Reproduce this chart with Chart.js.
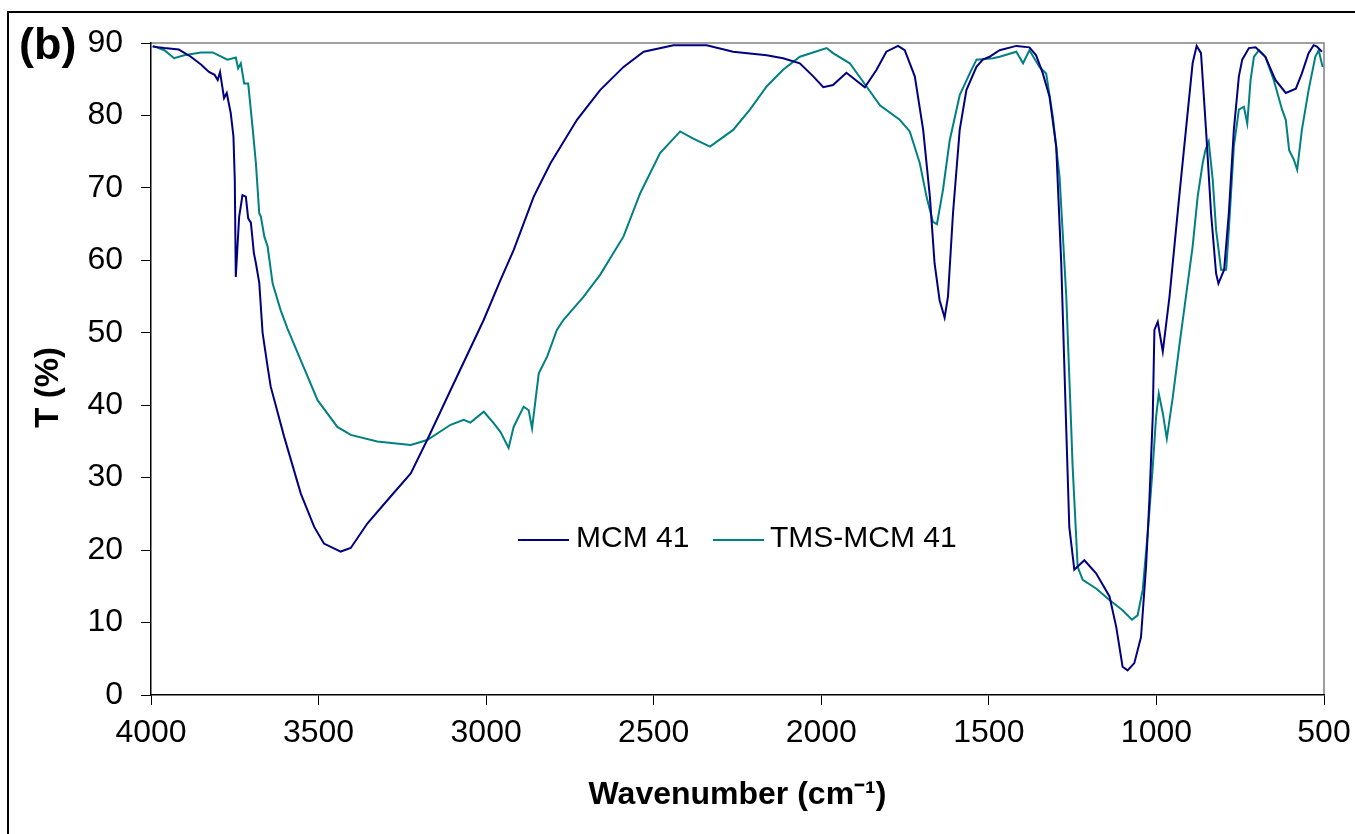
<!DOCTYPE html>
<html>
<head>
<meta charset="utf-8">
<script src="https://cdn.jsdelivr.net/npm/chart.js"></script>
<style>
  html, body { margin: 0; padding: 0; background: #fff; }
</style>
</head>
<body>
<canvas id="myChart" width="1355" height="834"></canvas>
<script>
// FT-IR spectra, values (wavenumber in cm-1, T in %)
const seriesNames = ['MCM 41', 'TMS-MCM 41'];

const mcmWave = [3995, 3960, 3917, 3881, 3850, 3827, 3810, 3801, 3794, 3782, 3774, 3762, 3754, 3750, 3747,
  3737, 3727, 3717, 3710, 3702, 3693, 3687, 3677, 3667, 3652, 3643, 3603, 3553, 3513, 3484, 3434, 3404,
  3354, 3285, 3225, 3176, 3106, 3007, 2957, 2918, 2858, 2808, 2729, 2660, 2590, 2530, 2441, 2342, 2263, 2163,
  2114, 2064, 2024, 1994, 1965, 1925, 1870, 1835, 1806, 1771, 1751, 1721, 1696, 1676, 1662, 1647, 1632,
  1622, 1607, 1587, 1567, 1537, 1518, 1498, 1468, 1418, 1379, 1359, 1339, 1319, 1299, 1284, 1269, 1260,
  1245, 1215, 1180, 1140, 1120, 1101, 1086, 1066, 1046, 1031, 1021, 1011, 1006, 996, 981, 961, 932, 912,
  892, 880, 867, 852, 837, 822, 815, 798, 784, 769, 754, 744, 724, 704, 675, 645, 614, 584, 566, 546,
  531, 521, 506];
const mcmT = [89.5, 89.3, 89.1, 88.1, 87.0, 86.0, 85.6, 84.9, 86.0, 82.4, 83.1, 80.3, 77.1, 71.1, 57.7,
  66.0, 69.0, 68.8, 65.8, 65.2, 61.0, 59.6, 56.9, 50.0, 45.3, 42.6, 35.7, 27.8, 23.2, 20.9, 19.8, 20.3,
  23.7, 27.4, 30.6, 35.2, 42.1, 51.8, 57.3, 61.4, 68.8, 73.4, 79.4, 83.5, 86.7, 88.8, 89.7, 89.7, 88.8, 88.3,
  87.9, 87.2, 85.4, 83.9, 84.2, 85.9, 83.9, 86.3, 88.8, 89.6, 89.0, 85.4, 78.0, 68.8, 59.6, 54.5, 52.1,
  55.0, 66.5, 78.0, 83.5, 86.7, 87.7, 88.1, 89.0, 89.6, 89.4, 88.3, 85.8, 82.6, 75.7, 59.6, 36.6, 23.2,
  17.3, 18.6, 16.8, 13.6, 9.4, 3.9, 3.4, 4.4, 8.0, 17.7, 26.9, 38.4, 50.4, 51.5, 47.4, 55.0, 68.8, 78.0,
  87.2, 89.6, 88.6, 78.0, 66.5, 58.2, 56.8, 58.7, 66.5, 78.0, 85.4, 87.7, 89.3, 89.4, 88.1, 84.9, 83.1, 83.7, 85.8, 88.6,
  89.7, 89.5, 88.8];

const tmsWave = [3995, 3960, 3931, 3901, 3851, 3816, 3772, 3747, 3740, 3732, 3722, 3710, 3697, 3687, 3677,
  3672, 3662, 3652, 3637, 3613, 3593, 3553, 3503, 3444, 3404, 3325, 3225, 3176, 3106, 3067, 3047, 3007,
  2977, 2957, 2933, 2918, 2888, 2873, 2863, 2843, 2818, 2789, 2769, 2709, 2660, 2590, 2540, 2481, 2421,
  2382, 2332, 2263, 2213, 2163, 2114, 2064, 1984, 1965, 1915, 1865, 1825, 1766, 1736, 1706, 1686, 1667,
  1655, 1637, 1617, 1587, 1557, 1537, 1488, 1468, 1418, 1398, 1379, 1349, 1329, 1309, 1289, 1269, 1254,
  1250, 1235, 1220, 1180, 1140, 1101, 1073, 1056, 1041, 1026, 1011, 1001, 993, 981, 969, 951, 932, 912,
  892, 877, 862, 854, 844, 832, 822, 807, 792, 784, 769, 754, 739, 729, 719, 709, 694, 675, 650, 625,
  614, 604, 590, 580, 566, 546, 526, 516, 504];
const tmsT = [89.6, 89.0, 87.9, 88.3, 88.7, 88.7, 87.7, 88.0, 86.5, 87.2, 84.4, 84.4, 78.4, 73.4, 66.5,
  66.0, 63.3, 61.9, 56.8, 53.1, 50.6, 46.2, 40.7, 37.0, 35.9, 35.0, 34.5, 35.2, 37.3, 38.0, 37.6, 39.1,
  37.5, 36.3, 34.1, 37.0, 39.8, 39.3, 36.8, 44.4, 46.7, 50.4, 51.8, 55.0, 58.0, 63.3, 69.3, 74.8, 77.8,
  76.8, 75.7, 78.0, 80.8, 84.0, 86.3, 88.1, 89.3, 88.6, 87.2, 84.0, 81.4, 79.4, 77.8, 73.4, 68.8, 65.3,
  65.0, 69.7, 76.5, 82.8, 85.8, 87.7, 87.9, 88.1, 88.8, 87.2, 89.0, 86.7, 85.8, 79.8, 71.5, 55.0, 36.6,
  31.5, 17.7, 15.9, 14.7, 13.1, 11.7, 10.4, 11.0, 14.5, 22.3, 31.5, 38.4, 41.6, 38.9, 35.4, 41.2, 48.1, 55.0,
  61.9, 68.8, 73.4, 75.2, 76.4, 71.1, 64.2, 58.7, 58.7, 64.2, 75.7, 80.8, 81.2, 78.9, 84.9, 88.1, 89.0, 88.1, 84.9, 80.8,
  79.4, 75.2, 73.9, 72.5, 78.0, 83.5, 88.1, 89.0, 86.7];

const xTicksMin = 500, xTicksMax = 4000, xStep = 500;
const yTicksMin = 0, yTicksMax = 90, yStep = 10;

const FONT = '"Liberation Sans", Arial, sans-serif';
const colors = ['#000080', '#008080'];

const toPoints = (xs, ys) => xs.map((x, i) => ({x: x, y: ys[i]}));

// outer frame, grey top/right border of plot, "(b)" label and the inline legend
const decorPlugin = {
  id: 'decor',
  beforeDraw(chart) {
    const ctx = chart.ctx;
    const a = chart.chartArea;
    ctx.save();
    ctx.strokeStyle = '#000';
    ctx.lineWidth = 2;
    ctx.strokeRect(8, 12, 1400, 900);
    ctx.strokeStyle = '#808080';
    ctx.lineWidth = 1.5;
    ctx.beginPath();
    ctx.moveTo(a.left, a.top);
    ctx.lineTo(a.right, a.top);
    ctx.lineTo(a.right, a.bottom);
    ctx.stroke();
    ctx.fillStyle = '#000';
    ctx.font = 'bold 45px ' + FONT;
    ctx.textBaseline = 'alphabetic';
    ctx.textAlign = 'left';
    ctx.fillText('(b)', 19, 59);
    ctx.restore();
  },
  afterDatasetsDraw(chart) {
    const ctx = chart.ctx;
    const items = [{x: 518, tx: 576}, {x: 713, tx: 770}];
    ctx.save();
    ctx.font = '30px ' + FONT;
    ctx.textBaseline = 'middle';
    ctx.textAlign = 'left';
    chart.data.datasets.forEach((ds, i) => {
      const it = items[i];
      ctx.strokeStyle = ds.borderColor;
      ctx.lineWidth = 2;
      ctx.beginPath();
      ctx.moveTo(it.x, 540);
      ctx.lineTo(it.x + 51, 540);
      ctx.stroke();
      ctx.fillStyle = '#000';
      ctx.fillText(ds.label, it.tx, 539);
    });
    ctx.restore();
  }
};

const ctx = document.getElementById('myChart');
new Chart(ctx, {
  type: 'line',
  data: {
    datasets: [
      {label: seriesNames[0], data: toPoints(mcmWave, mcmT), borderColor: colors[0], borderWidth: 2,
       pointRadius: 0, tension: 0, fill: false},
      {label: seriesNames[1], data: toPoints(tmsWave, tmsT), borderColor: colors[1], borderWidth: 2,
       pointRadius: 0, tension: 0, fill: false}
    ]
  },
  options: {
    responsive: false,
    animation: false,
    devicePixelRatio: 1,
    layout: { padding: { left: 0, top: 43, right: 31, bottom: 0 } },
    plugins: {
      legend: { display: false },
      tooltip: { enabled: false }
    },
    scales: {
      x: {
        type: 'linear',
        reverse: true,
        min: xTicksMin,
        max: xTicksMax,
        afterFit(s) { s.height = 139; s.paddingLeft = 0; s.paddingRight = 0; },
        ticks: { stepSize: xStep, color: '#000', padding: 9, maxRotation: 0,
                 callback: v => String(v),
                 font: { family: FONT, size: 32 } },
        grid: { drawOnChartArea: false, drawTicks: true, tickLength: 10, color: '#000' },
        border: { color: '#000', width: 1.5 },
        title: { display: true, text: 'Wavenumber (cm\u207B\u00B9)', color: '#000',
                 font: { family: FONT, size: 32, weight: 'bold' }, padding: { top: 0, bottom: 20 } }
      },
      y: {
        min: yTicksMin,
        max: yTicksMax,
        afterFit(s) { s.width = 151; s.paddingTop = 0; s.paddingBottom = 0; },
        ticks: { stepSize: yStep, color: '#000', padding: 18,
                 callback: v => String(v),
                 font: { family: FONT, size: 32 } },
        grid: { drawOnChartArea: false, drawTicks: true, tickLength: 10, color: '#000' },
        border: { color: '#000', width: 1.5 },
        title: { display: true, text: 'T (%)    ', color: '#000',
                 font: { family: FONT, size: 33, weight: 'bold' }, padding: { top: 29, bottom: 0 } }
      }
    }
  },
  plugins: [decorPlugin]
});
</script>
</body>
</html>
